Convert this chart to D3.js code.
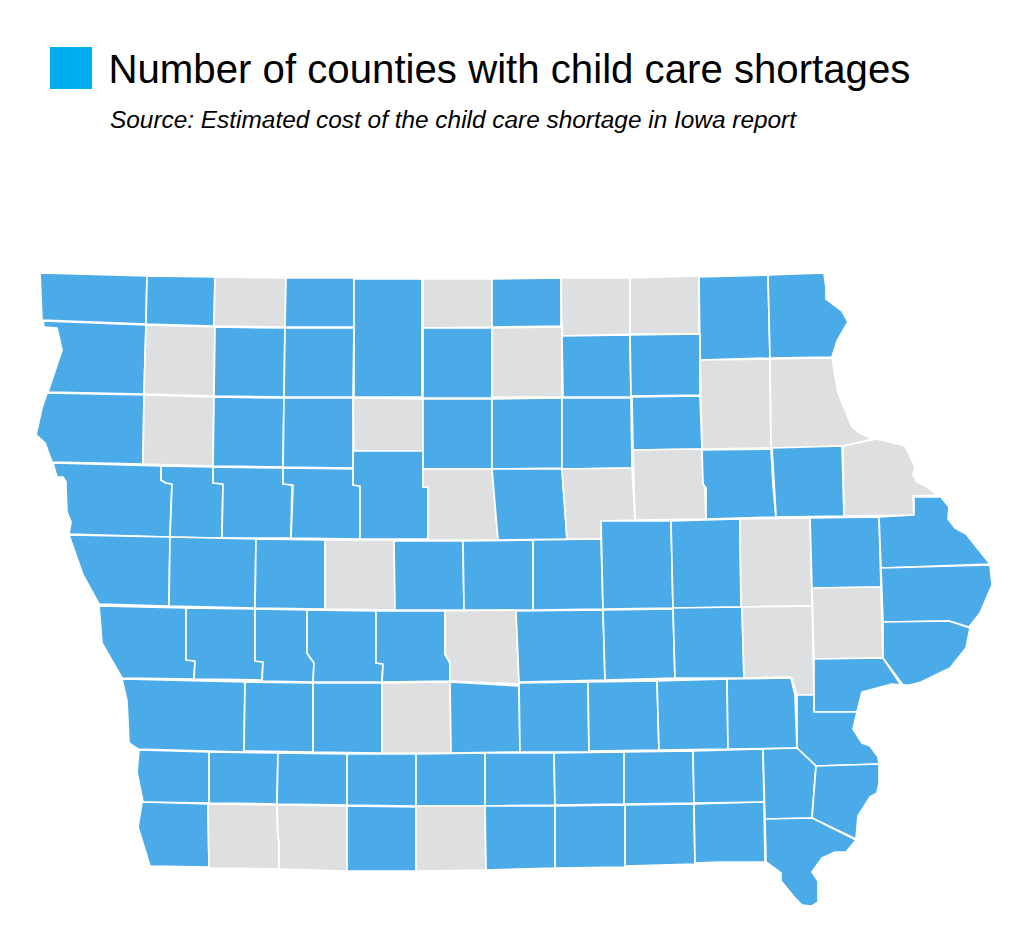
<!DOCTYPE html>
<html>
<head>
<meta charset="utf-8">
<style>
  html, body { margin: 0; padding: 0; background: #fff; }
  svg { display: block; }
  text { font-family: "Liberation Sans", Arial, sans-serif; fill: #000; }
  .county { stroke: #fff; stroke-width: 1.7px; stroke-linejoin: round; }
</style>
<script src="https://cdn.jsdelivr.net/npm/d3@7"></script>
</head>
<body>
<svg id="chart" width="1024" height="933"></svg>
<script>
var titleText = "Number of counties with child care shortages";
var sourceText = "Source: Estimated cost of the child care shortage in Iowa report";

var countyNames = [
  "Lyon", "Osceola", "Dickinson", "Emmet", "Kossuth", "Winnebago", "Worth", "Mitchell", "Howard", "Winneshiek", "Allamakee",
  "Sioux", "O'Brien", "Clay", "Palo Alto", "Hancock", "Cerro Gordo", "Floyd", "Chickasaw", "Fayette", "Clayton",
  "Plymouth", "Cherokee", "Buena Vista", "Pocahontas", "Humboldt", "Wright", "Franklin", "Butler", "Bremer", "Black Hawk", "Buchanan", "Delaware", "Dubuque",
  "Woodbury", "Ida", "Sac", "Calhoun", "Webster", "Hamilton", "Hardin", "Grundy",
  "Monona", "Crawford", "Carroll", "Greene", "Boone", "Story", "Marshall", "Tama", "Benton", "Linn", "Jones", "Jackson", "Clinton", "Cedar",
  "Harrison", "Shelby", "Audubon", "Guthrie", "Dallas", "Polk", "Jasper", "Poweshiek", "Iowa", "Johnson", "Muscatine", "Scott",
  "Pottawattamie", "Cass", "Adair", "Madison", "Warren", "Marion", "Mahaska", "Keokuk", "Washington", "Louisa",
  "Mills", "Montgomery", "Adams", "Union", "Clarke", "Lucas", "Monroe", "Wapello", "Jefferson", "Henry", "Des Moines",
  "Fremont", "Page", "Taylor", "Ringgold", "Decatur", "Wayne", "Appanoose", "Davis", "Van Buren", "Lee"
];

var noShortage = [
  "Dickinson", "Winnebago", "Mitchell", "Howard", "O'Brien", "Cerro Gordo", "Fayette", "Clayton",
  "Cherokee", "Humboldt", "Black Hawk", "Dubuque", "Hamilton", "Grundy", "Greene", "Linn", "Cedar",
  "Polk", "Johnson", "Madison", "Page", "Taylor", "Decatur"
];

var countyRings = [
  // top row
  [[40,273],[147,276],[146,324],[42,320]],
  [[147,276],[215,277],[214,326],[146,324]],
  [[215,277],[286,278],[285,327],[214,326]],
  [[286,278],[354,278],[354,327],[285,327]],
  [[354,279],[422,279],[422,397],[354,397]],
  [[423,279],[492,279],[492,327],[423,328]],
  [[492,279],[561,278],[561,326],[492,327]],
  [[561,278],[630,278],[630,334],[562,336]],
  [[630,278],[699,276],[699,334],[630,334]],
  [[699,277],[768,275],[770,358],[700,360]],
  [[768,275],[824,273],[826,288],[826,299],[842,311],[848,322],[837,341],[832,357],[770,358]],
  // second row
  [[43,321],[146,325],[144,394],[48,392],[62,350],[57,328],[44,327]],
  [[146,325],[215,327],[214,396],[144,394]],
  [[215,327],[285,328],[284,397],[214,396]],
  [[285,328],[354,328],[353,397],[284,397]],
  [[423,328],[492,328],[492,398],[423,398]],
  [[492,328],[562,327],[562,397],[492,397]],
  [[562,336],[630,335],[631,397],[563,397]],
  [[630,335],[700,334],[700,395],[631,396]],
  [[700,360],[770,359],[771,448],[702,449]],
  [[770,359],[832,358],[838,393],[852,427],[860,433],[872,439],[843,446],[771,448]],
  // third row
  [[47,393],[144,395],[143,464],[52,462],[45,443],[36,435],[42,408]],
  [[144,395],[214,397],[213,466],[143,464]],
  [[214,397],[284,398],[283,467],[213,466]],
  [[284,398],[353,398],[353,468],[283,467]],
  [[353,398],[423,399],[423,451],[354,451]],
  [[423,399],[492,399],[492,469],[423,469]],
  [[492,399],[562,398],[562,468],[492,469]],
  [[562,398],[631,398],[632,468],[562,469]],
  [[632,397],[700,396],[702,449],[633,450]],
  [[633,450],[702,449],[704,485],[705,489],[706,519],[635,520]],
  [[702,450],[771,449],[773,485],[776,517],[706,519],[706,488],[703,484]],
  [[772,448],[842,446],[844,516],[776,517],[775,498]],
  [[843,446],[877,439],[905,446],[915,467],[913,475],[917,482],[927,487],[938,495],[913,496],[914,515],[844,516]],
  // fourth row, stepped borders
  [[53,463],[161,466],[161,480],[166,483],[172,484],[170,537],[69,534],[71,522],[67,512],[66,488],[66,482],[63,477],[57,477]],
  [[161,466],[213,467],[213,483],[223,484],[222,538],[170,537],[172,484],[166,483],[161,480]],
  [[213,467],[283,468],[283,484],[292,485],[291,538],[222,538],[223,484],[213,483]],
  [[283,468],[353,469],[353,485],[360,486],[360,539],[291,538],[293,485],[283,484]],
  [[353,451],[423,451],[423,487],[428,487],[428,539],[360,539],[360,486],[353,485]],
  [[423,469],[492,469],[498,540],[428,540],[428,487],[423,487]],
  [[492,469],[562,469],[567,539],[498,540]],
  [[562,469],[632,468],[635,520],[601,521],[601,539],[567,539]],
  // fifth row
  [[69,535],[170,537],[169,606],[99,604],[83,575]],
  [[170,537],[256,539],[255,608],[169,606]],
  [[256,539],[325,540],[325,609],[255,608]],
  [[325,540],[394,540],[395,610],[325,609]],
  [[394,541],[463,541],[464,610],[395,610]],
  [[463,541],[533,540],[533,610],[464,610]],
  [[533,540],[601,539],[603,609],[533,610]],
  [[601,521],[671,521],[673,608],[603,609]],
  [[671,521],[740,519],[741,607],[673,608]],
  [[740,519],[810,518],[811,560],[812,606],[741,607]],
  [[810,518],[879,517],[881,587],[812,588]],
  [[879,517],[914,515],[914,497],[941,497],[949,507],[948,519],[955,528],[966,534],[990,564],[881,568]],
  [[881,568],[990,565],[992,585],[980,613],[969,627],[949,621],[883,622]],
  [[812,588],[881,587],[883,658],[814,659]],
  // sixth row
  [[99,606],[186,608],[186,660],[195,661],[194,679],[122,678],[102,643]],
  [[186,608],[255,609],[255,661],[263,662],[262,680],[194,679],[195,661],[186,660]],
  [[255,609],[307,610],[307,653],[314,663],[313,682],[262,681],[263,662],[255,661]],
  [[307,610],[376,611],[376,663],[383,664],[382,682],[313,682],[314,663],[307,653]],
  [[376,611],[445,611],[445,654],[450,663],[450,681],[382,682],[383,664],[376,663]],
  [[445,611],[516,610],[519,684],[450,681],[450,663],[445,654]],
  [[516,611],[603,610],[605,680],[519,682]],
  [[603,610],[673,609],[675,678],[605,680]],
  [[673,608],[742,607],[744,678],[675,678]],
  [[742,607],[812,606],[814,695],[797,695],[794,685],[791,677],[744,678]],
  [[814,659],[883,658],[901,685],[892,684],[862,692],[857,712],[814,712]],
  [[883,622],[949,621],[970,628],[966,648],[950,668],[921,682],[910,685],[903,685],[883,658]],
  // seventh row
  [[122,679],[245,682],[244,752],[138,749],[129,743],[127,701]],
  [[245,682],[313,683],[313,752],[244,751]],
  [[313,683],[382,683],[382,753],[313,752]],
  [[382,683],[450,682],[451,753],[382,753]],
  [[450,682],[519,686],[520,752],[451,753]],
  [[519,683],[588,682],[589,752],[520,752]],
  [[588,682],[657,681],[659,750],[589,751]],
  [[657,681],[727,679],[728,749],[659,750]],
  [[727,679],[791,678],[795,695],[797,748],[728,749]],
  [[797,695],[814,695],[814,712],[857,712],[853,729],[862,743],[870,746],[878,757],[879,764],[816,766],[797,748]],
  // eighth row
  [[139,750],[209,752],[209,803],[143,802],[137,772]],
  [[209,752],[278,753],[277,804],[209,803]],
  [[278,753],[347,754],[347,805],[277,804]],
  [[347,754],[416,754],[416,806],[347,805]],
  [[416,754],[485,753],[485,806],[416,806]],
  [[485,753],[554,753],[555,805],[485,806]],
  [[554,753],[624,752],[624,804],[555,805]],
  [[624,752],[693,751],[694,803],[624,804]],
  [[693,751],[763,749],[764,802],[694,803]],
  [[763,749],[797,748],[816,766],[812,818],[765,819]],
  [[816,766],[879,764],[879,783],[877,793],[870,797],[858,816],[856,839],[812,818]],
  // bottom row
  [[142,802],[208,804],[209,867],[150,866],[138,827]],
  [[208,804],[277,805],[278,839],[279,839],[279,869],[209,868]],
  [[277,805],[347,806],[347,871],[279,869],[279,839],[278,839]],
  [[347,806],[416,807],[416,871],[347,871]],
  [[416,806],[485,806],[486,870],[416,871]],
  [[485,806],[555,806],[555,868],[486,870]],
  [[555,806],[625,805],[625,867],[555,868]],
  [[625,805],[694,804],[695,864],[625,866]],
  [[694,804],[764,802],[765,862],[720,862],[695,863]],
  [[765,819],[812,818],[856,840],[846,852],[835,852],[822,858],[812,872],[818,881],[818,902],[812,906],[802,905],[795,898],[781,881],[781,873],[766,862]]
];

var shortageColor = "#4babe9";
var noShortageColor = "#dedfe0";
var legendColor = "#00adee";

var svg = d3.select("#chart");

// rings are already in page pixels, so a plain identity projection is enough
var path = d3.geoPath(d3.geoIdentity());

var counties = countyNames.map(function(name, i) {
  return {
    type: "Feature",
    properties: { name: name },
    geometry: { type: "Polygon", coordinates: [countyRings[i].concat([countyRings[i][0]])] }
  };
});

svg.append("g").selectAll("path")
  .data(counties)
  .join("path")
  .attr("class", "county")
  .attr("d", path)
  .attr("fill", function(d) {
    return noShortage.indexOf(d.properties.name) >= 0 ? noShortageColor : shortageColor;
  });

svg.append("rect")
  .attr("x", 50).attr("y", 47)
  .attr("width", 42).attr("height", 42)
  .attr("fill", legendColor);

svg.append("text")
  .attr("x", 108.5).attr("y", 83)
  .style("font-size", "40.2px")
  .text(titleText);

svg.append("text")
  .attr("x", 110).attr("y", 128)
  .style("font-size", "24.4px")
  .style("font-style", "italic")
  .text(sourceText);
</script>
</body>
</html>
